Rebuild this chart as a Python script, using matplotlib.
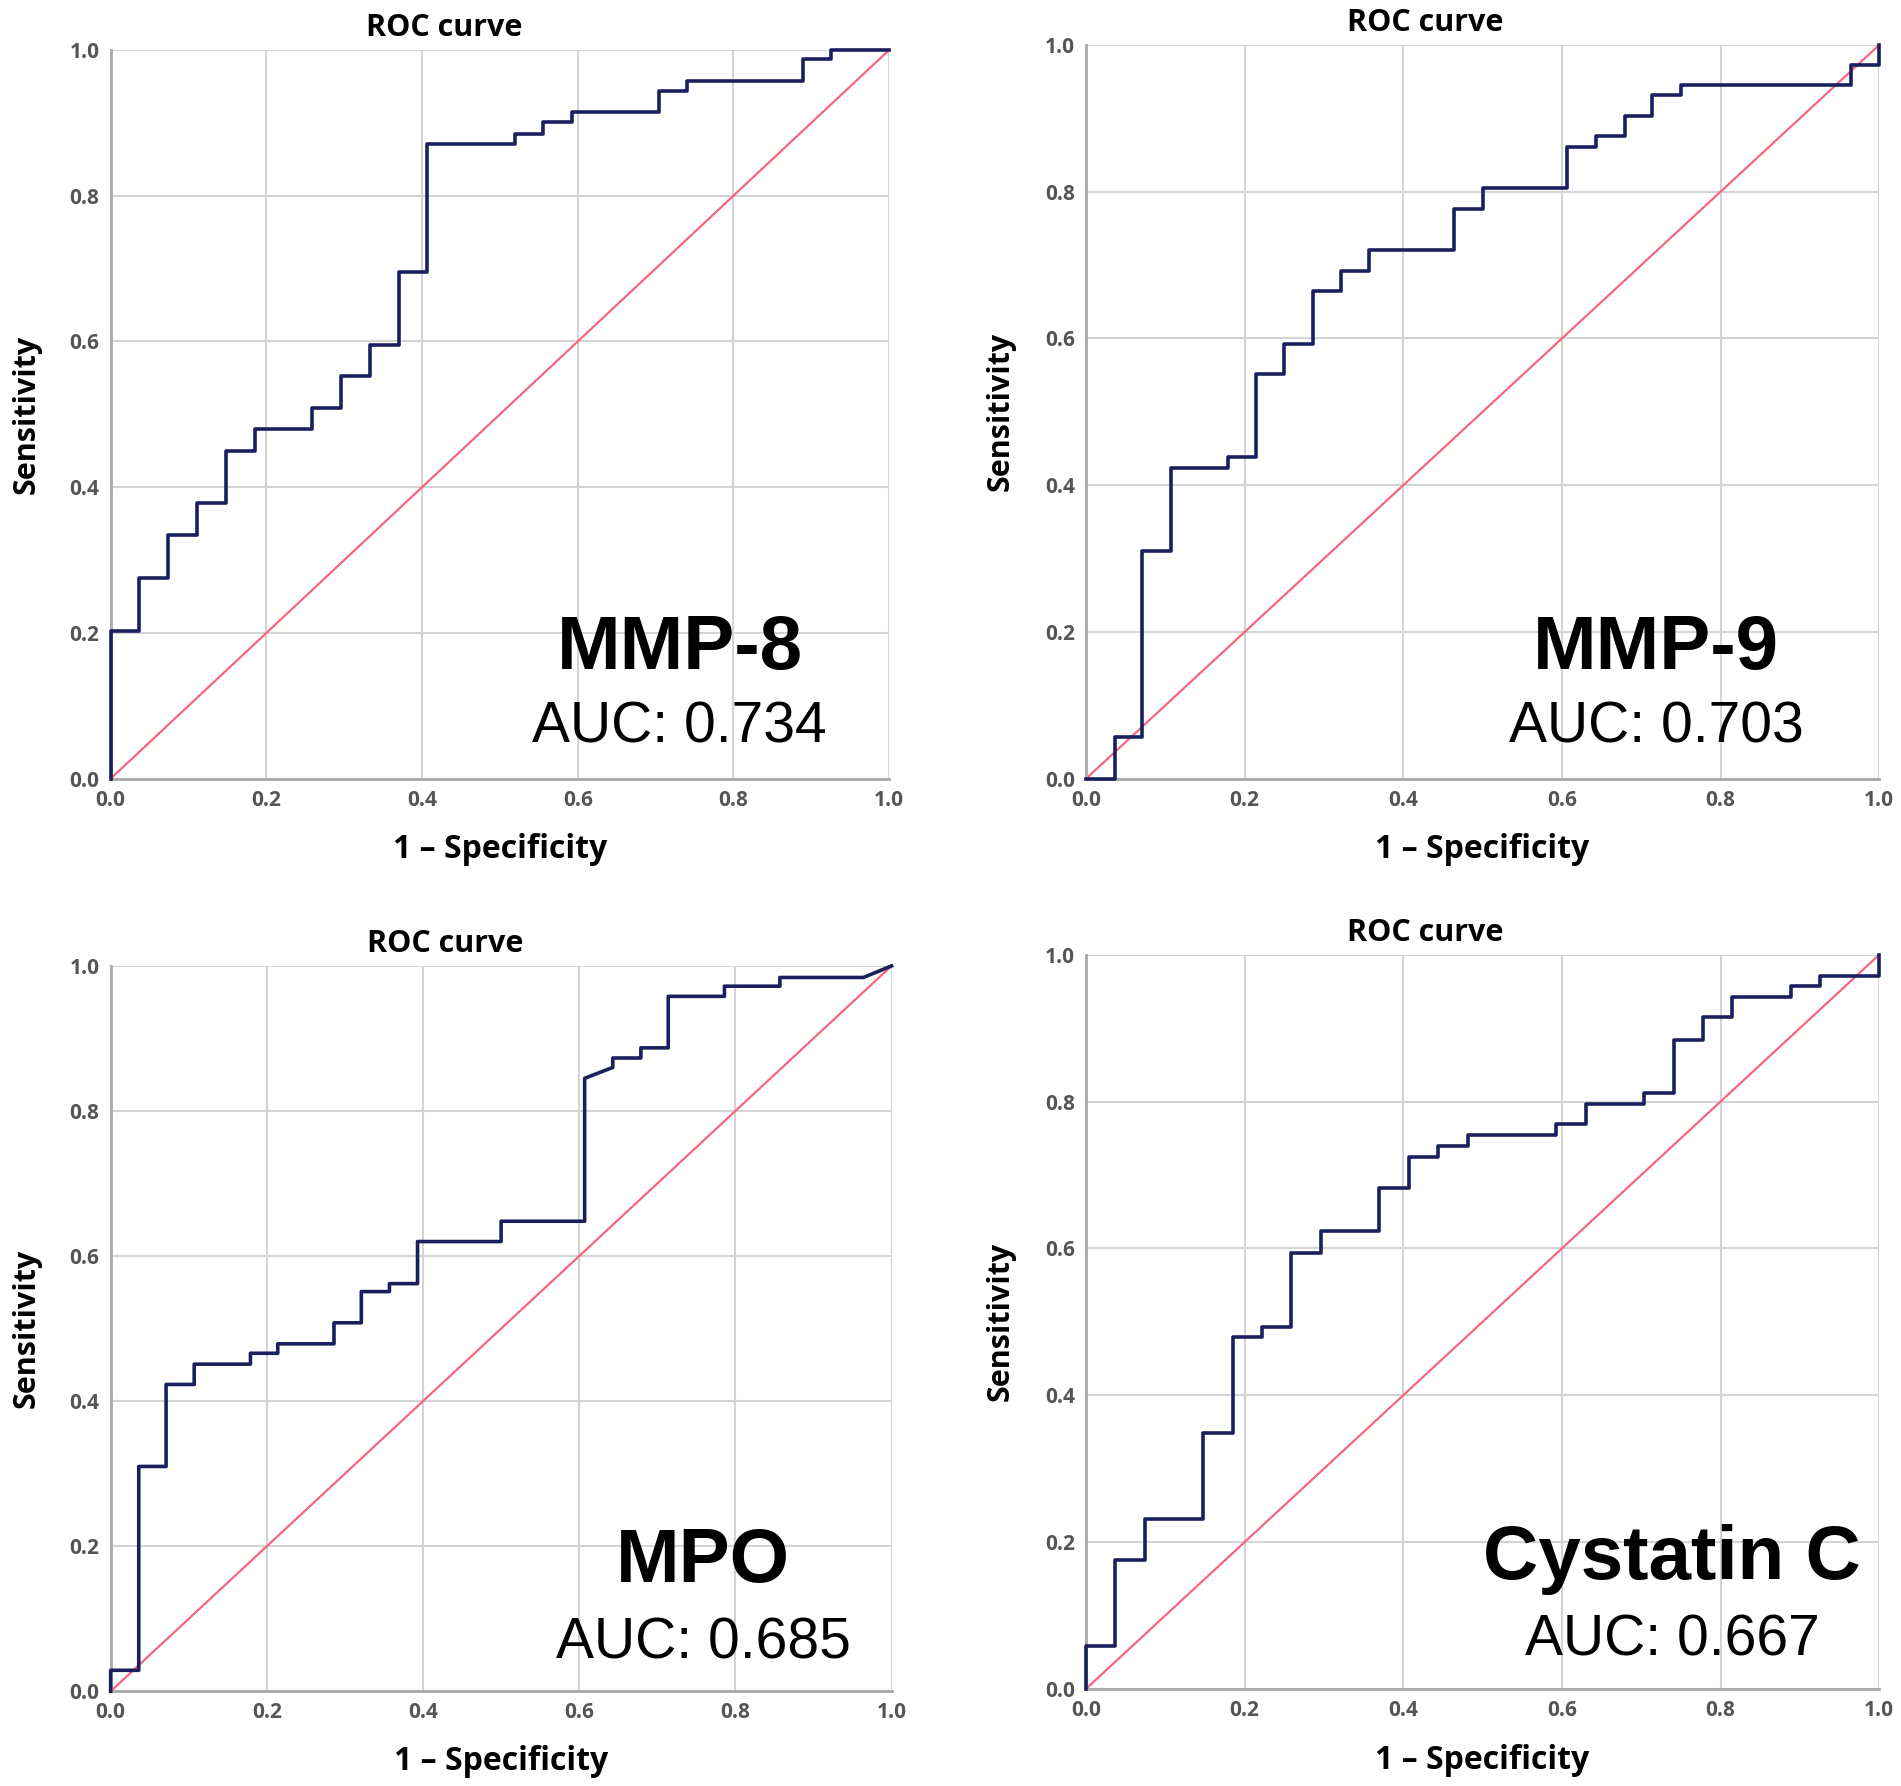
import matplotlib
matplotlib.use("Agg")
import matplotlib.pyplot as plt

# ROC curve vertices (1 - specificity, sensitivity)
mmp8_fpr = [0, 0, 0.037, 0.037, 0.074, 0.074, 0.111, 0.111, 0.148, 0.148, 0.185, 0.185,
            0.259, 0.259, 0.296, 0.296, 0.333, 0.333, 0.370, 0.370, 0.407, 0.407,
            0.519, 0.519, 0.556, 0.556, 0.593, 0.593, 0.704, 0.704, 0.741, 0.741,
            0.889, 0.889, 0.926, 0.926, 1.0]
mmp8_tpr = [0, 0.203, 0.203, 0.276, 0.276, 0.334, 0.334, 0.378, 0.378, 0.450, 0.450, 0.480,
            0.480, 0.509, 0.509, 0.552, 0.552, 0.595, 0.595, 0.696, 0.696, 0.871,
            0.871, 0.885, 0.885, 0.901, 0.901, 0.915, 0.915, 0.944, 0.944, 0.958,
            0.958, 0.988, 0.988, 1.0, 1.0]

mmp9_fpr = [0, 0.036, 0.036, 0.071, 0.071, 0.107, 0.107, 0.179, 0.179, 0.214, 0.214,
            0.250, 0.250, 0.286, 0.286, 0.321, 0.321, 0.357, 0.357, 0.464, 0.464,
            0.500, 0.500, 0.607, 0.607, 0.643, 0.643, 0.679, 0.679, 0.714, 0.714,
            0.750, 0.750, 0.964, 0.964, 1.0, 1.0]
mmp9_tpr = [0, 0, 0.057, 0.057, 0.311, 0.311, 0.424, 0.424, 0.439, 0.439, 0.551,
            0.551, 0.593, 0.593, 0.665, 0.665, 0.692, 0.692, 0.721, 0.721, 0.777,
            0.777, 0.805, 0.805, 0.861, 0.861, 0.876, 0.876, 0.903, 0.903, 0.932,
            0.932, 0.946, 0.946, 0.973, 0.973, 1.0]

mpo_fpr = [0, 0, 0.036, 0.036, 0.071, 0.071, 0.107, 0.107, 0.179, 0.179, 0.214, 0.214,
           0.286, 0.286, 0.321, 0.321, 0.357, 0.357, 0.393, 0.393, 0.500, 0.500,
           0.607, 0.607, 0.643, 0.643, 0.679, 0.679, 0.714, 0.714, 0.786, 0.786,
           0.857, 0.857, 0.964, 1.0]
mpo_tpr = [0, 0.029, 0.029, 0.310, 0.310, 0.423, 0.423, 0.451, 0.451, 0.466, 0.466, 0.479,
           0.479, 0.508, 0.508, 0.551, 0.551, 0.562, 0.562, 0.620, 0.620, 0.648,
           0.648, 0.845, 0.860, 0.873, 0.873, 0.887, 0.887, 0.958, 0.958, 0.972,
           0.972, 0.984, 0.984, 1.0]

cys_fpr = [0, 0, 0.037, 0.037, 0.074, 0.074, 0.148, 0.148, 0.185, 0.185, 0.222, 0.222,
           0.259, 0.259, 0.296, 0.296, 0.370, 0.370, 0.407, 0.407, 0.444, 0.444,
           0.481, 0.481, 0.593, 0.593, 0.630, 0.630, 0.704, 0.704, 0.741, 0.741,
           0.778, 0.778, 0.815, 0.815, 0.889, 0.889, 0.926, 0.926, 1.0, 1.0]
cys_tpr = [0, 0.059, 0.059, 0.175, 0.175, 0.232, 0.232, 0.348, 0.348, 0.479, 0.479, 0.493,
           0.493, 0.594, 0.594, 0.624, 0.624, 0.682, 0.682, 0.725, 0.725, 0.740,
           0.740, 0.754, 0.754, 0.769, 0.769, 0.797, 0.797, 0.812, 0.812, 0.884,
           0.884, 0.915, 0.915, 0.942, 0.942, 0.958, 0.958, 0.971, 0.971, 1.0]

markers = ["MMP-8", "MMP-9", "MPO", "Cystatin C"]
auc_values = [0.734, 0.703, 0.685, 0.667]
ticks = [0.0, 0.2, 0.4, 0.6, 0.8, 1.0]

curves = [(mmp8_fpr, mmp8_tpr), (mmp9_fpr, mmp9_tpr), (mpo_fpr, mpo_tpr), (cys_fpr, cys_tpr)]

# axes placement [left, bottom, width, height] and label anchor positions
positions = [
    [0.0582, 0.5640, 0.4095, 0.4080],
    [0.5713, 0.5640, 0.4172, 0.4108],
    [0.0582, 0.0530, 0.4108, 0.4062],
    [0.5713, 0.0544, 0.4172, 0.4110],
]
name_x = [0.731, 0.719, 0.759, 0.739]
name_y = [0.150, 0.149, 0.151, 0.149]
auc_y = [0.050, 0.050, 0.045, 0.045]

curve_color = "#1b1f5e"
ref_color = "#f5677f"
grid_color = "#d4d4d4"
spine_color = "#a8a8a8"
tick_color = "#555555"
label_font = "Open Sans"
big_font = "Liberation Sans"

fig = plt.figure(figsize=(19.01, 17.86), dpi=100)

for i, (fpr, tpr) in enumerate(curves):
    ax = fig.add_axes(positions[i])
    ax.set_xlim(0, 1)
    ax.set_ylim(0, 1)

    # grid and frame
    ax.set_xticks(ticks)
    ax.set_yticks(ticks)
    ax.grid(True, color=grid_color, linewidth=1.5)
    ax.set_axisbelow(True)
    for side in ["top", "right"]:
        ax.spines[side].set_visible(False)
    for side in ["left", "bottom"]:
        ax.spines[side].set_color(spine_color)
        ax.spines[side].set_linewidth(2)
    ax.tick_params(length=0, pad=8, labelsize=15, labelcolor=tick_color)
    ax.set_xticklabels([f"{t:.1f}" for t in ticks], family=label_font, weight="bold")
    ax.set_yticklabels([f"{t:.1f}" for t in ticks], family=label_font, weight="bold")

    # reference line and ROC curve
    ax.plot([0, 1], [0, 1], color=ref_color, linewidth=1.6, clip_on=False)
    ax.plot(fpr, tpr, color=curve_color, linewidth=2.6, clip_on=False, zorder=3)

    # labels
    ax.set_title("ROC curve", family=label_font, weight="bold", fontsize=22,
                 x=0.428, pad=10)
    ax.set_xlabel("1 \u2013 Specificity", family=label_font, weight="bold", fontsize=23)
    ax.set_ylabel("Sensitivity", family=label_font, weight="bold", fontsize=22)
    ax.xaxis.set_label_coords(0.5, -0.097)
    ax.yaxis.set_label_coords(-0.108, 0.5)
    ax.xaxis.label.set_verticalalignment("center")
    ax.yaxis.label.set_verticalalignment("center")

    # marker name and AUC
    ax.text(name_x[i], name_y[i], markers[i], transform=ax.transAxes, ha="center",
            va="baseline", family=big_font, weight="bold", fontsize=55)
    ax.text(name_x[i], auc_y[i], f"AUC: {auc_values[i]:.3f}", transform=ax.transAxes,
            ha="center", va="baseline", family=big_font, fontsize=41)

fig.savefig("out.png", dpi=100)
